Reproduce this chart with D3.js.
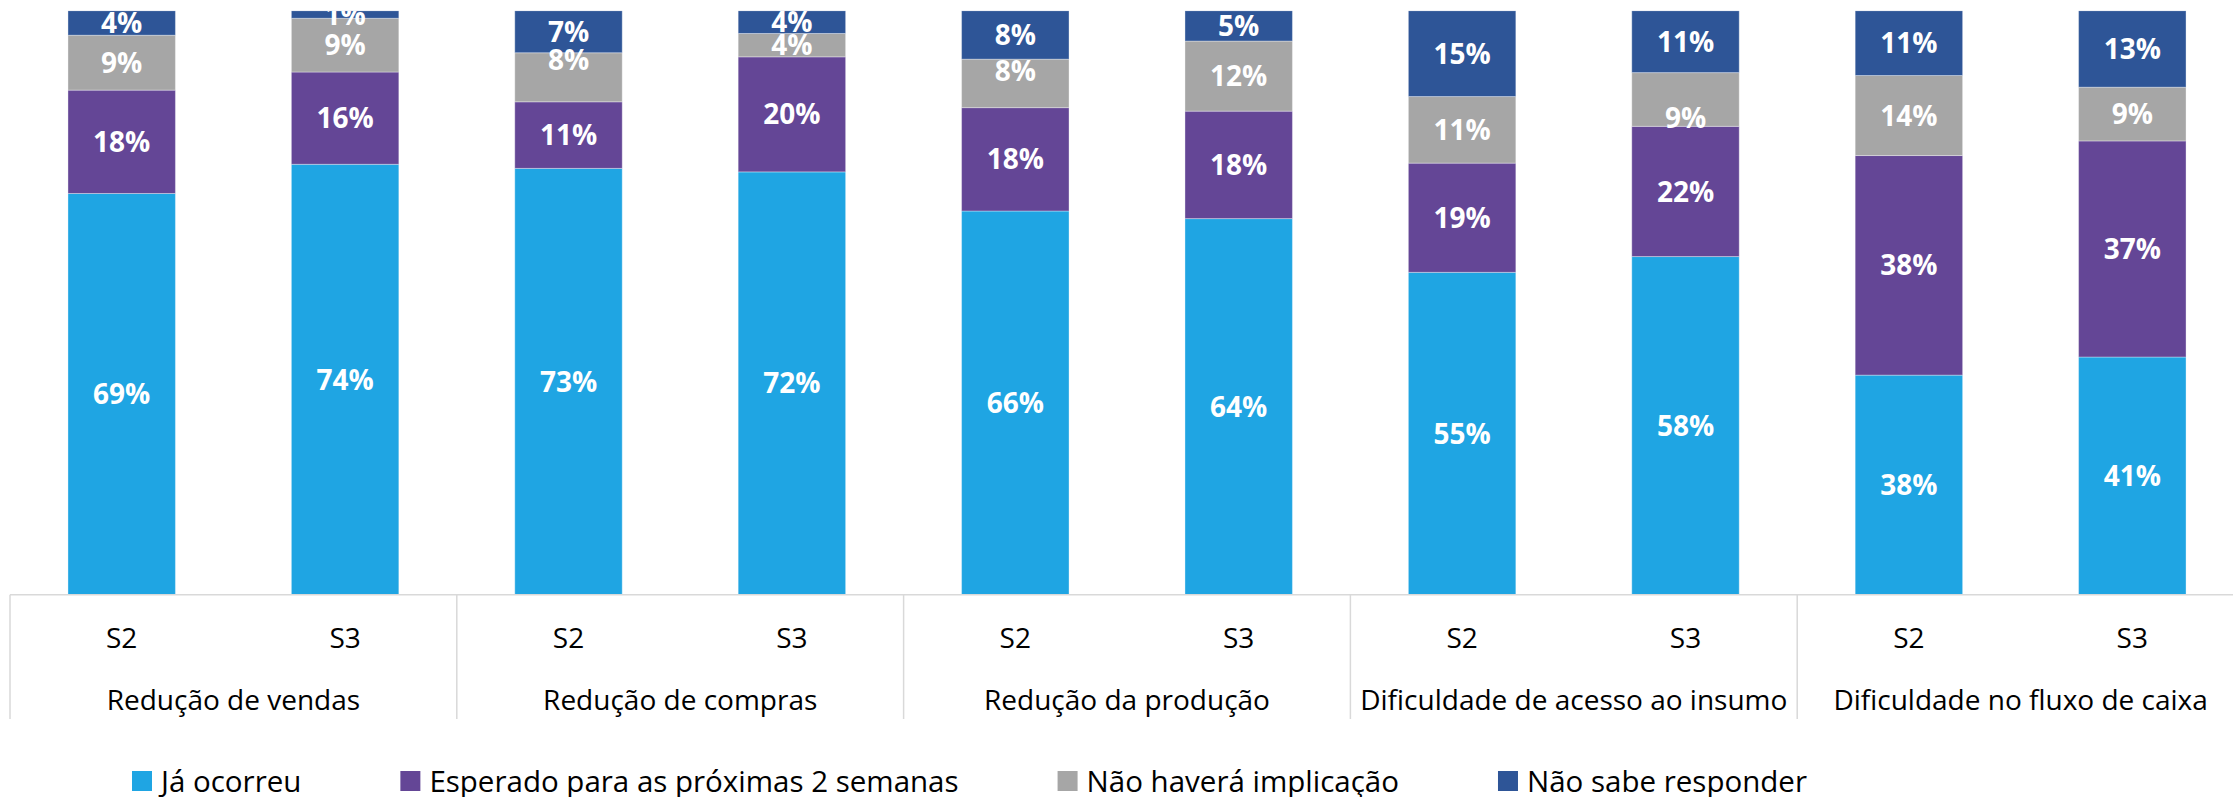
<!DOCTYPE html>
<html>
<head>
<meta charset="utf-8">
<script src="https://cdn.jsdelivr.net/npm/d3@7"></script>
<style>
  html, body { margin: 0; padding: 0; background: #fff; }
  svg { display: block; }
  text { font-family: "Open Sans", "Noto Sans", sans-serif; }
</style>
</head>
<body>
<svg id="chart" width="2233" height="797"></svg>
<script>
// ---------- DATA ----------
const groups = ["Redução de vendas", "Redução de compras", "Redução da produção",
                "Dificuldade de acesso ao insumo", "Dificuldade no fluxo de caixa"];
const waves = ["S2", "S3"];
const seriesNames = ["Já ocorreu", "Esperado para as próximas 2 semanas",
                     "Não haverá implicação", "Não sabe responder"];
// percentages, one value per bar (group × wave order)
const jaOcorreu = [68.7, 73.7, 73.0, 72.4, 65.7, 64.4, 55.2, 57.9, 37.6, 40.7];
const esperado  = [17.7, 15.8, 11.4, 19.7, 17.7, 18.4, 18.7, 22.3, 37.6, 37.0];
const naoHavera = [ 9.4,  9.2,  8.4,  4.0,  8.3, 12.0, 11.4,  9.2, 13.7,  9.2];
const naoSabe   = [ 4.2,  1.3,  7.2,  3.9,  8.3,  5.2, 14.7, 10.6, 11.1, 13.1];

// ---------- STYLE ----------
const colors = ["#1FA5E3", "#644696", "#A6A6A6", "#2E5597"];
const W = 2233, H = 797;
const plot = { left: 10, right: 2244, top: 10.7, bottom: 594.7 };

const svg = d3.select("#chart");

// build rows
const bars = [];
groups.forEach((g, gi) => waves.forEach((w, wi) => {
  const i = gi * waves.length + wi;
  bars.push({ key: g + "|" + w, group: g, wave: w,
    "0": jaOcorreu[i], "1": esperado[i], "2": naoHavera[i], "3": naoSabe[i] });
}));

const x = d3.scaleBand()
  .domain(bars.map(d => d.key))
  .range([plot.left, plot.right])
  .paddingInner(0.519)
  .paddingOuter(0.2595);

const xg = d3.scaleBand().domain(groups).range([plot.left, plot.right]);

const y = d3.scaleLinear().domain([0, 100]).range([plot.bottom, plot.top]);

const stack = d3.stack().keys(["0", "1", "2", "3"]);
const stacked = stack(bars);

svg.append("clipPath").attr("id", "plotclip")
  .append("rect").attr("x", 0).attr("y", plot.top).attr("width", W).attr("height", plot.bottom - plot.top + 1);

const gBars = svg.append("g").attr("clip-path", "url(#plotclip)");

stacked.forEach((layer, si) => {
  gBars.append("g").attr("fill", colors[si])
    .selectAll("rect").data(layer).join("rect")
    .attr("x", d => x(d.data.key))
    .attr("width", x.bandwidth())
    .attr("y", d => y(d[1]))
    .attr("height", d => y(d[0]) - y(d[1]))
    .attr("stroke", "#ffffff").attr("stroke-opacity", 0.35).attr("stroke-width", 1);
});

// data labels (small manual nudges like in the original)
const nudge = { "2|2": -17, "2|4": -12, "2|7": 18 };
stacked.forEach((layer, si) => {
  gBars.append("g")
    .selectAll("text").data(layer).join("text")
    .attr("x", d => x(d.data.key) + x.bandwidth() / 2)
    .attr("y", (d, i) => (y(d[0]) + y(d[1])) / 2 + (nudge[si + "|" + i] || 0))
    .attr("dy", "0.36em")
    .attr("text-anchor", "middle")
    .attr("fill", "#ffffff")
    .attr("font-weight", 700)
    .attr("font-size", 28)
    .text(d => Math.round(d[1] - d[0]) + "%");
});

// ---------- CATEGORY AXIS ----------
const axisColor = "#D9D9D9";
svg.append("line")
  .attr("x1", plot.left).attr("x2", W)
  .attr("y1", plot.bottom).attr("y2", plot.bottom)
  .attr("stroke", axisColor).attr("stroke-width", 1.5);

const sepBottom = 719;
const seps = groups.map(g => xg(g)).concat([plot.right]);
svg.append("g").selectAll("line").data(seps).join("line")
  .attr("x1", d => d).attr("x2", d => d)
  .attr("y1", plot.bottom).attr("y2", sepBottom)
  .attr("stroke", axisColor).attr("stroke-width", 1.5);

const waveAxis = svg.append("g")
  .attr("transform", `translate(0,${plot.bottom})`)
  .call(d3.axisBottom(x).tickSize(0).tickFormat(k => k.split("|")[1]));
waveAxis.select(".domain").remove();
waveAxis.selectAll("text")
  .attr("y", 648 - plot.bottom).attr("dy", 0)
  .attr("font-size", 28).attr("fill", "#000")
  .style("font-family", '"Open Sans", "Noto Sans", sans-serif');

const groupAxis = svg.append("g")
  .attr("transform", `translate(0,${plot.bottom})`)
  .call(d3.axisBottom(xg).tickSize(0));
groupAxis.select(".domain").remove();
groupAxis.selectAll("text")
  .attr("y", 710 - plot.bottom).attr("dy", 0)
  .attr("font-size", 28).attr("fill", "#000")
  .style("font-family", '"Open Sans", "Noto Sans", sans-serif');

// ---------- LEGEND ----------
const legend = svg.append("g");
let lx = 132;
const gap = 99, sq = 20, sqGap = 9;
seriesNames.forEach((name, i) => {
  const it = legend.append("g");
  it.append("rect").attr("x", lx).attr("y", 771).attr("width", sq).attr("height", sq).attr("fill", colors[i]);
  const t = it.append("text").attr("x", lx + sq + sqGap).attr("y", 792)
    .attr("font-size", 29.5).attr("fill", "#000").text(name);
  lx += sq + sqGap + t.node().getComputedTextLength() + gap;
});
</script>
</body>
</html>
